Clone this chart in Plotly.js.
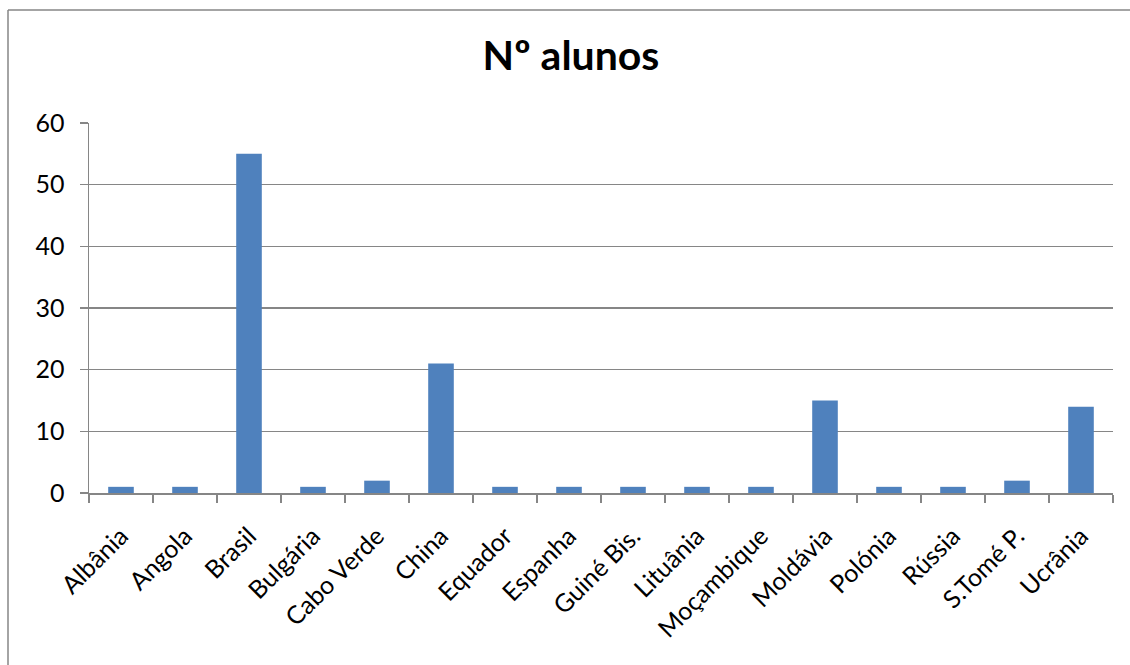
<!DOCTYPE html>
<html>
<head>
<meta charset="utf-8">
<script src="https://cdn.plot.ly/plotly-3.0.1.min.js"></script>
<style>html,body{margin:0;padding:0;background:#fff;overflow:hidden;}</style>
</head>
<body>
<div id="chart" style="width:1130px;height:665px;"></div>
<script>
var countries = ["Albânia","Angola","Brasil","Bulgária","Cabo Verde","China","Equador","Espanha","Guiné Bis.","Lituânia","Moçambique","Moldávia","Polónia","Rússia","S.Tomé P.","Ucrânia"];
var alunos = [1,1,55,1,2,21,1,1,1,1,1,15,1,1,2,14];
var yTicks = [0,10,20,30,40,50,60];

var W = 1130, H = 665;
var mL = 89, mR = 17, mT = 123, mB = 172;
var pw = W - mL - mR, ph = H - mT - mB;

var trace = {
  type: "bar",
  x: countries,
  y: alunos,
  marker: {color: "#4F81BD"},
  hoverinfo: "x+y"
};

var fx = function (px) { return (px - mL) / pw; };
var fy = function (py) { return 1 - (py - mT) / ph; };

var layout = {
  width: W, height: H,
  margin: {l: mL, r: mR, t: mT, b: mB, pad: 0},
  paper_bgcolor: "#ffffff",
  plot_bgcolor: "#ffffff",
  font: {family: "Lato, 'Open Sans', sans-serif", color: "#000000", size: 24},
  title: {
    text: "<b>Nº alunos</b>",
    font: {family: "Lato, 'Open Sans', sans-serif", size: 41, color: "#000000"},
    x: 571 / W, xref: "container", xanchor: "center",
    y: 1 - 56 / H, yref: "container", yanchor: "middle"
  },
  bargap: 0.6,
  showlegend: false,
  xaxis: {
    type: "category",
    tickangle: -45,
    tickson: "boundaries",
    ticks: "outside",
    ticklen: 8,
    tickwidth: 1.5,
    tickcolor: "#868686",
    showline: true,
    linecolor: "#868686",
    linewidth: 1.5,
    showgrid: false,
    tickfont: {size: 25},
    ticklabelstandoff: 17,
    fixedrange: true
  },
  yaxis: {
    range: [0, 60],
    tickvals: yTicks,
    ticktext: yTicks.map(String),
    ticks: "outside",
    ticklen: 8,
    tickwidth: 1.5,
    tickcolor: "#868686",
    showline: true,
    linecolor: "#868686",
    linewidth: 1.5,
    showgrid: true,
    gridcolor: "#868686",
    gridwidth: 1.2,
    zeroline: false,
    tickfont: {size: 25},
    ticklabelstandoff: 10,
    fixedrange: true
  },
  shapes: [
    {type: "line", xref: "paper", yref: "paper",
     x0: fx(8), x1: fx(1140), y0: fy(10), y1: fy(10),
     line: {color: "#868686", width: 1.5}, layer: "below"},
    {type: "line", xref: "paper", yref: "paper",
     x0: fx(8), x1: fx(8), y0: fy(10), y1: fy(680),
     line: {color: "#868686", width: 1.5}, layer: "below"}
  ]
};

Plotly.newPlot("chart", [trace], layout, {displayModeBar: false, staticPlot: true});
</script>
</body>
</html>
